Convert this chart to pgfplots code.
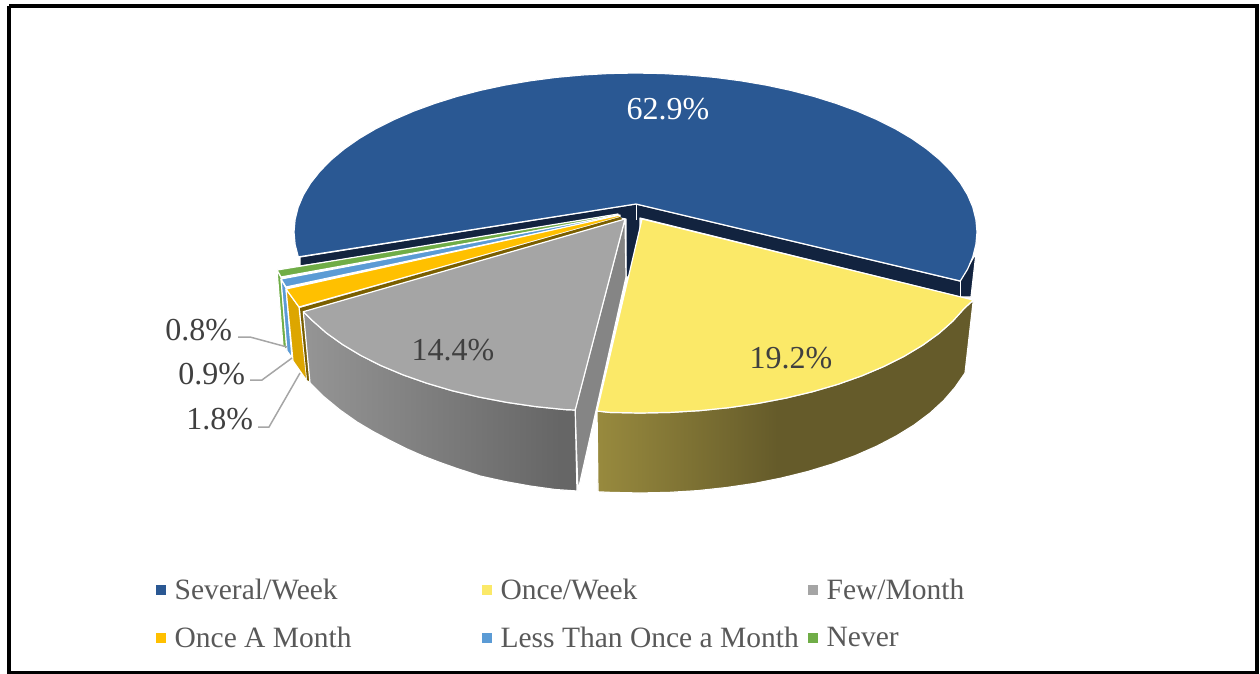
\documentclass[border=0pt]{standalone}
\usepackage{pgfplots}
\pgfplotsset{compat=1.18}
\usepackage{fontspec}
\setmainfont{Liberation Serif}
\definecolor{cBlue}{HTML}{2A5893}
\definecolor{cNavy}{HTML}{12233F}
\definecolor{cYel}{HTML}{FBE968}
\definecolor{cGrey}{HTML}{A5A5A5}
\definecolor{cGreyW}{HTML}{858585}
\definecolor{cOr}{HTML}{FFC000}
\definecolor{cOrS}{HTML}{DDA600}
\definecolor{cBrown}{HTML}{7A5F00}
\definecolor{cSky}{HTML}{5B9BD5}
\definecolor{cGreen}{HTML}{70AD47}
\definecolor{cTxt}{HTML}{404040}
\definecolor{cLeg}{HTML}{595959}
\definecolor{cLead}{HTML}{A6A6A6}
\definecolor{yelA}{HTML}{988A3E}
\definecolor{yelB}{HTML}{655B2A}
\definecolor{grA}{HTML}{959595}
\definecolor{grB}{HTML}{666666}
\pgfdeclarehorizontalshading{yelside}{100bp}{
 color(0bp)=(yelA); color(25bp)=(yelA); color(49bp)=(yelB); color(75bp)=(yelB); color(100bp)=(yelB)}
\pgfdeclarehorizontalshading{greyside}{100bp}{
 color(0bp)=(grA); color(25bp)=(grA); color(72bp)=(grB); color(75bp)=(grB); color(100bp)=(grB)}
\newcommand{\lf}{\fontsize{29.5}{31}\selectfont}
\newcommand{\vf}{\fontsize{32}{34}\selectfont}
\pgfplotsset{seam/.style={draw=white,line width=1.2pt,line join=round,no markers,forget plot}}
\begin{document}
\begin{tikzpicture}
\begin{axis}[
  scale only axis,width=1260pt,height=673pt,
  xmin=0,xmax=1260,ymin=0,ymax=673,y dir=reverse,
  axis line style={draw=none},ticks=none,clip=true,
  legend columns=3,
  legend style={at={(0.1243,0.1428)},anchor=north west,draw=none,fill=none,
    font=\lf,text=cLeg,row sep=22pt,inner sep=0pt,outer sep=0pt,
    /tikz/every odd column/.style={column sep=7pt},
    /tikz/every even column/.style={column sep=0pt}},
  legend cell align=left
]
% outer sides of the blue slice
\addplot[seam,fill=cNavy] coordinates {(636,204)(300,257)(300,266)(620,218)(626,219)(626,277)(640,277)(640,218)(960,297)(971,297)(976,253)(960,281)(636,204)};
\addplot[draw=white,line width=1pt,forget plot] coordinates {(636,204)(636,220)};
\addplot[draw=white,line width=1pt,forget plot] coordinates {(960,281)(960,297)};
% top of the blue slice
\addplot[seam,fill=cBlue] coordinates {(636,204)(298.3,256.9)(295.1,244.5)(294,232)(295.1,219.5)(298.2,207.1)(303.4,194.9)(310.7,182.9)(320,171.2)(331.2,159.8)(344.3,148.9)(359.2,138.5)(375.8,128.7)(394,119.6)(413.7,111.1)(434.8,103.4)(457.1,96.4)(480.5,90.3)(504.8,85.1)(530,80.8)(555.8,77.4)(582.1,75)(608.7,73.5)(635.5,73)(662.3,73.5)(688.9,75)(715.2,77.4)(741,80.8)(766.2,85.1)(790.5,90.3)(813.9,96.4)(836.2,103.4)(857.3,111.1)(877,119.6)(895.2,128.7)(911.8,138.5)(926.7,148.9)(939.8,159.8)(951,171.2)(960.3,182.9)(967.6,194.9)(972.8,207.1)(975.9,219.5)(977,232)(975.9,244.5)(972.8,256.9)(967.6,269.1)(960.3,281)(636,204)};
% green
\addplot[seam,fill=cGreen] coordinates {(277,270)(281,277)(287,351)(283,346)(277,270)};
\addplot[seam,fill=cGreen] coordinates {(277,270)(281,277)(618,216)(618,214)(277,270)};
% sky
\addplot[seam,fill=cSky] coordinates {(281,279)(286,288)(292,358)(287,351)(281,279)};
\addplot[seam,fill=cSky] coordinates {(281,279)(286,287)(619,216)(618,215)(281,279)};
% orange
\addplot[seam,fill=cOrS] coordinates {(286,289)(299,307)(307,381)(293,361)(286,289)};
\addplot[seam,fill=cOr] coordinates {(286,289)(299,307)(620,217)(620,215)(286,289)};
% brown
\addplot[fill=cBrown,draw=none,forget plot] coordinates {(300,308)(620,217)(623,220)(303,312)(311,382)(307,380)};
% grey
\addplot[seam,fill=cGreyW] coordinates {(625,219)(575,410)(578,491)(626,277)(625,219)};
\addplot[seam,shading=greyside] coordinates {(303.3,311.7)(312.3,320.5)(326.2,332.8)(342.4,344.4)(360.7,355.4)(381,365.6)(403.2,374.9)(427.1,383.3)(452.5,390.8)(479.2,397.1)(507,402.4)(535.7,406.6)(565.1,409.6)(575.2,410)(577,491)(555,489.5)(530,486)(505,481.5)(480,476)(457,468.5)(440,462.5)(423,456)(406,448.5)(390,440.5)(373,431.5)(357,422)(340,410)(323,396)(310,383)(303.3,311.7)};
\addplot[seam,fill=cGrey] coordinates {(625,219)(303.3,311.7)(312.3,320.5)(326.2,332.8)(342.4,344.4)(360.7,355.4)(381,365.6)(403.2,374.9)(427.1,383.3)(452.5,390.8)(479.2,397.1)(507,402.4)(535.7,406.6)(565.1,409.6)(575.2,410)(625,219)};
% yellow
\addplot[seam,shading=yelside] coordinates {(973.3,300)(965,373)(954.8,387.7)(943.6,400.6)(930.1,413)(914.4,424.8)(896.6,435.8)(876.9,446.1)(855.3,455.6)(832.2,464.1)(807.5,471.6)(781.6,478)(754.6,483.4)(726.7,487.5)(698.2,490.6)(669.2,492.4)(640,493)(610.8,492.4)(598,491.8)(597,411)(609.9,412.4)(640,413)(670.1,412.4)(699.9,410.6)(729.3,407.6)(758,403.4)(785.8,398.1)(812.5,391.7)(837.9,384.3)(861.8,375.8)(884,366.4)(904.3,356.2)(922.6,345.2)(938.8,333.5)(952.7,321.2)(964.2,308.4)(973.3,300)};
\addplot[seam,fill=cYel] coordinates {(642,219)(973.3,300)(964.2,308.4)(952.7,321.2)(938.8,333.5)(922.6,345.2)(904.3,356.2)(884,366.4)(861.8,375.8)(837.9,384.3)(812.5,391.7)(785.8,398.1)(758,403.4)(729.3,407.6)(699.9,410.6)(670.1,412.4)(640,413)(609.9,412.4)(597,411)(642,219)};
% leaders
\addplot[draw=cLead,line width=1.5pt,forget plot] coordinates {(238,337)(250,337)(287,347)};
\addplot[draw=cLead,line width=1.5pt,forget plot] coordinates {(250,380)(262,380)(292,358)};
\addplot[draw=cLead,line width=1.5pt,forget plot] coordinates {(258,427)(269,427)(300,373)};
% frame
\addplot[draw=black,line width=4pt,forget plot] coordinates {(9,6)(1257,6)(1257,673)(9,673)(9,6)};
% labels
\node[text=white,font=\vf] at (axis cs:668,109) {62.9\%};
\node[text=cTxt,font=\vf] at (axis cs:791,358) {19.2\%};
\node[text=cTxt,font=\vf] at (axis cs:453,350) {14.4\%};
\node[text=cTxt,font=\vf,anchor=east] at (axis cs:235.5,330) {0.8\%};
\node[text=cTxt,font=\vf,anchor=east] at (axis cs:248.5,374) {0.9\%};
\node[text=cTxt,font=\vf,anchor=east] at (axis cs:256.5,419) {1.8\%};
% legend
\addlegendimage{only marks,mark=square*,mark size=4.5pt,color=cBlue}
\addlegendentry{\makebox[306pt][l]{Several/Week}}
\addlegendimage{only marks,mark=square*,mark size=4.5pt,color=cYel}
\addlegendentry{\makebox[306pt][l]{Once/Week}}
\addlegendimage{only marks,mark=square*,mark size=4.5pt,color=cGrey}
\addlegendentry{Few/Month}
\addlegendimage{only marks,mark=square*,mark size=4.5pt,color=cOr}
\addlegendentry{Once A Month}
\addlegendimage{only marks,mark=square*,mark size=4.5pt,color=cSky}
\addlegendentry{Less Than Once a Month}
\addlegendimage{only marks,mark=square*,mark size=4.5pt,color=cGreen}
\addlegendentry{Never}
\end{axis}
\end{tikzpicture}
\end{document}
